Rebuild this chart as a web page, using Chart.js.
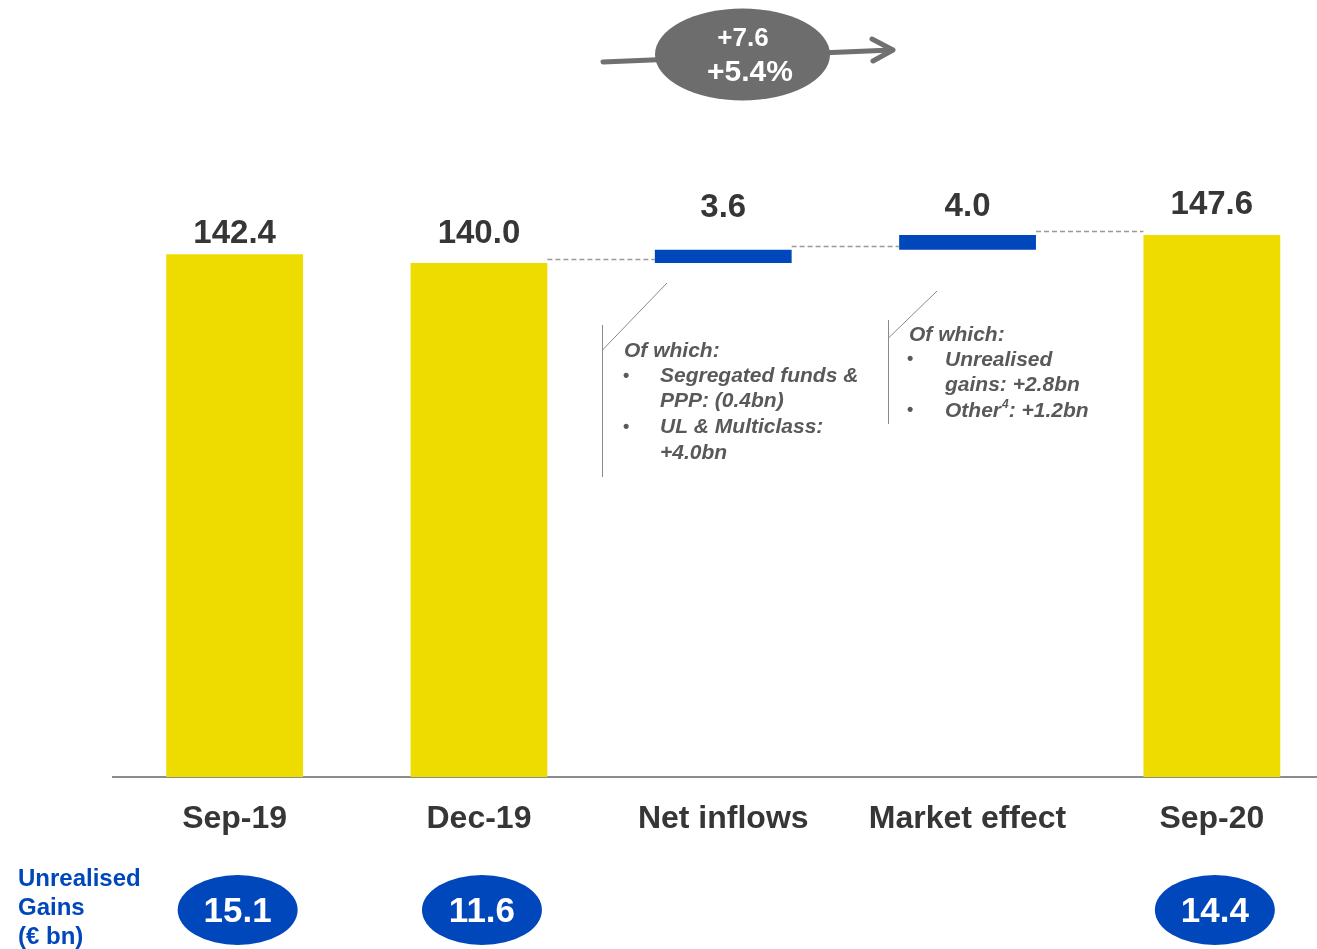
<!DOCTYPE html>
<html>
<head>
<meta charset="utf-8">
<script src="https://cdn.jsdelivr.net/npm/chart.js@4/dist/chart.umd.min.js"></script>
<style>
  html, body { margin: 0; padding: 0; background: #fff; overflow: hidden; }
  #wrap { position: relative; width: 1334px; height: 949px; }
</style>
</head>
<body>
<div id="wrap"><canvas id="bridge"></canvas></div>
<script>
// Assets bridge Sep-19 -> Sep-20 (€ bn)
const categories = ['Sep-19', 'Dec-19', 'Net inflows', 'Market effect', 'Sep-20'];
const barValues = [142.4, 140.0, 3.6, 4.0, 147.6];
const isTotal = [true, true, false, false, true];
const gains = [15.1, 11.6, null, null, 14.4];
const changeLabels = ['+7.6', '+5.4%'];
const netInflowNotes = ['Segregated funds &', 'PPP: (0.4bn)', 'UL & Multiclass:', '+4.0bn'];
const marketNotes = ['Unrealised', 'gains: +2.8bn', 'Other', ': +1.2bn'];
const gainsTitle = ['Unrealised', 'Gains', '(€ bn)'];

const YELLOW = '#EEDC00';
const BLUE = '#0047BB';
const DARK = '#363636';
const NOTE = '#595959';
const FONT = '"Liberation Sans", Arial, sans-serif';

// running totals -> floating ranges for the deltas
let running = 0;
const ranges = barValues.map((v, i) => {
  if (isTotal[i]) { running = v; return [0, v]; }
  const r = [running, running + v];
  running += v;
  return r;
});

// how far each value label sits above its bar
const labelLift = [20, 29, 42, 28, 30];

const bridgeDecor = {
  id: 'bridgeDecor',
  afterDatasetsDraw(chart) {
    const ctx = chart.ctx;
    const xs = chart.scales.x;
    const ys = chart.scales.y;
    const bars = chart.getDatasetMeta(0).data;
    ctx.save();

    // dashed connectors between consecutive bars
    ctx.strokeStyle = '#9a9a9a';
    ctx.lineWidth = 1.5;
    ctx.setLineDash([5, 3]);
    for (let i = 0; i < bars.length - 1; i++) {
      if (isTotal[i] && isTotal[i + 1]) continue;
      const level = ranges[i][1];
      const y = Math.round(ys.getPixelForValue(level)) - 4 + 0.5;
      ctx.beginPath();
      ctx.moveTo(bars[i].x + bars[i].width / 2, y);
      ctx.lineTo(bars[i + 1].x - bars[i + 1].width / 2, y);
      ctx.stroke();
    }
    ctx.setLineDash([]);

    // value labels
    ctx.fillStyle = DARK;
    ctx.font = 'bold 33px ' + FONT;
    ctx.textAlign = 'center';
    ctx.textBaseline = 'middle';
    bars.forEach((b, i) => {
      const top = Math.min(b.y, b.base);
      ctx.fillText(barValues[i].toFixed(1), b.x, top - labelLift[i]);
    });

    // growth badge with arrow
    ctx.strokeStyle = '#707070';
    ctx.lineWidth = 5;
    ctx.lineCap = 'round';
    ctx.lineJoin = 'round';
    ctx.beginPath();
    ctx.moveTo(603, 62);
    ctx.lineTo(892, 50);
    ctx.stroke();
    ctx.beginPath();
    ctx.moveTo(872, 39);
    ctx.lineTo(893, 50);
    ctx.lineTo(873, 61);
    ctx.stroke();
    ctx.fillStyle = '#6d6d6d';
    ctx.beginPath();
    ctx.ellipse(742.5, 54.5, 87.5, 46, 0, 0, Math.PI * 2);
    ctx.fill();
    ctx.fillStyle = '#ffffff';
    ctx.font = 'bold 26px ' + FONT;
    ctx.fillText(changeLabels[0], 743, 39);
    ctx.font = 'bold 30px ' + FONT;
    ctx.fillText(changeLabels[1], 750, 73);

    // callout leader lines
    ctx.strokeStyle = '#8a8a8a';
    ctx.lineWidth = 1;
    ctx.lineCap = 'butt';
    ctx.beginPath();
    ctx.moveTo(602.5, 325); ctx.lineTo(602.5, 477);
    ctx.moveTo(667, 283); ctx.lineTo(602.5, 350);
    ctx.moveTo(888.5, 320); ctx.lineTo(888.5, 424);
    ctx.moveTo(937, 291); ctx.lineTo(888.5, 338);
    ctx.stroke();

    // callout texts
    ctx.textAlign = 'left';
    ctx.fillStyle = NOTE;
    const noteFont = 'italic bold 21px ' + FONT;
    const bulletFont = 'bold 18px ' + FONT;
    const bullet = (x, y) => { ctx.font = bulletFont; ctx.fillText('•', x, y); ctx.font = noteFont; };

    ctx.font = noteFont;
    ctx.fillText('Of which:', 624, 351);
    bullet(623, 376);
    ctx.fillText(netInflowNotes[0], 660, 376);
    ctx.fillText(netInflowNotes[1], 660, 401);
    bullet(623, 427);
    ctx.fillText(netInflowNotes[2], 660, 427);
    ctx.fillText(netInflowNotes[3], 660, 453);

    ctx.fillText('Of which:', 909, 335);
    bullet(907, 359);
    ctx.fillText(marketNotes[0], 945, 360);
    ctx.fillText(marketNotes[1], 945, 385);
    bullet(907, 410);
    ctx.fillText(marketNotes[2], 945, 411);
    let w = ctx.measureText(marketNotes[2]).width;
    ctx.font = 'italic bold 12px ' + FONT;
    ctx.fillText('4', 945 + w + 1, 405);
    const sw = ctx.measureText('4').width;
    ctx.font = noteFont;
    ctx.fillText(marketNotes[3], 945 + w + 1 + sw, 411);

    // unrealised gains row
    ctx.fillStyle = BLUE;
    ctx.font = 'bold 24px ' + FONT;
    gainsTitle.forEach((t, k) => ctx.fillText(t, 18, 879 + k * 29));

    ctx.textAlign = 'center';
    gains.forEach((g, i) => {
      if (g === null) return;
      const cx = xs.getPixelForValue(i) + 3;
      ctx.fillStyle = BLUE;
      ctx.beginPath();
      ctx.ellipse(cx, 910, 60, 35, 0, 0, Math.PI * 2);
      ctx.fill();
      ctx.fillStyle = '#ffffff';
      ctx.font = 'bold 35px ' + FONT;
      ctx.fillText(g.toFixed(1), cx, 912);
    });

    ctx.restore();
  }
};

new Chart(document.getElementById('bridge'), {
  type: 'bar',
  data: {
    labels: categories,
    datasets: [{
      data: ranges,
      backgroundColor: isTotal.map(t => t ? YELLOW : BLUE),
      borderWidth: 0,
      categoryPercentage: 1,
      barPercentage: 0.56
    }]
  },
  options: {
    responsive: true,
    maintainAspectRatio: false,
    animation: false,
    layout: { padding: { left: 112.5, right: 0, top: 189.5, bottom: 0 } },
    plugins: {
      legend: { display: false },
      title: { display: false },
      tooltip: { enabled: false }
    },
    scales: {
      x: {
        grid: { display: false, drawTicks: false },
        border: { display: true, color: '#8c8c8c', width: 2 },
        ticks: {
          color: DARK,
          font: { family: FONT, size: 32, weight: 'bold' },
          padding: 23,
          maxRotation: 0,
          autoSkip: false
        },
        afterFit(scale) { scale.height = 172; }
      },
      y: {
        display: false,
        min: 0,
        max: 160
      }
    }
  },
  plugins: [bridgeDecor]
});
</script>
</body>
</html>
